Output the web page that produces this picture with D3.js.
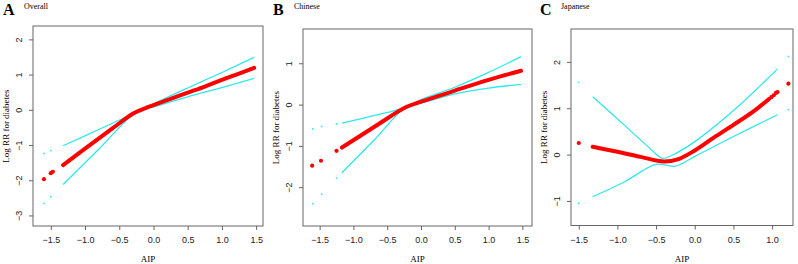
<!DOCTYPE html>
<html>
<head>
<meta charset="utf-8">
<script src="https://cdn.jsdelivr.net/npm/d3@7"></script>
<style>
  body { margin: 0; background: #fff; }
  svg { display: block; }
</style>
</head>
<body>
<svg width="798" height="264"></svg>
<script>
// ---- data ----
var xTicks = [-1.5, -1.0, -0.5, 0.0, 0.5, 1.0, 1.5];
var japaneseXTicks = [-1.5, -1.0, -0.5, 0.0, 0.5, 1.0];

// A  Overall
var overallX      = [-1.32, -1.0, -0.6, -0.29, -0.1, 0, 0.25, 0.49, 0.75, 1.0, 1.25, 1.47];
var overallFit    = [-1.57, -1.10, -0.53, -0.10, 0.06, 0.13, 0.31, 0.48, 0.66, 0.85, 1.03, 1.19];
var overallDotX   = [-1.6, -1.5, -1.47];
var overallDotFit = [-1.97, -1.80, -1.76];
var overallCiX    = [-1.32, -0.8, -0.25, 0, 0.5, 1.0, 1.47];
var overallUpper  = [-1.02, -0.56, -0.07, 0.17, 0.62, 1.06, 1.49];
var overallLower  = [-2.12, -1.12, -0.07, 0.08, 0.37, 0.63, 0.89];
var overallCiDotX = [-1.6, -1.5];
var overallUpDot  = [-1.24, -1.16];
var overallLoDot  = [-2.66, -2.47];
var overallYTicks = [2, 1, 0, -1, -2, -3];

// B  Chinese
var chineseX      = [-1.17, -0.7, -0.22, 0, 0.5, 1.0, 1.48];
var chineseFit    = [-1.04, -0.55, -0.06, 0.07, 0.34, 0.60, 0.82];
var chineseDotX   = [-1.61, -1.48, -1.25];
var chineseDotFit = [-1.48, -1.36, -1.12];
var chineseCiX    = [-1.17, -0.7, -0.22, 0, 0.5, 1.0, 1.48];
var chineseUpper  = [-0.45, -0.27, -0.06, 0.12, 0.42, 0.78, 1.16];
var chineseLower  = [-1.65, -0.87, -0.06, 0.03, 0.26, 0.40, 0.49];
var chineseCiDotX = [-1.6, -1.47, -1.25];
var chineseUpDot  = [-0.59, -0.53, -0.47];
var chineseLoDot  = [-2.40, -2.17, -1.78];
var chineseYTicks = [1, 0, -1, -2];

// C  Japanese
var japaneseX      = [-1.32, -1.0, -0.7, -0.4, -0.2, 0, 0.25, 0.5, 0.75, 0.96];
var japaneseFit    = [0.17, 0.06, -0.05, -0.15, -0.09, 0.09, 0.37, 0.64, 0.92, 1.20];
var japaneseDotX   = [-1.5, 0.99, 1.02, 1.05, 1.07, 1.21];
var japaneseDotFit = [0.25, 1.24, 1.28, 1.33, 1.35, 1.53];
var japaneseUpX    = [-1.32, -0.9, -0.55, -0.42, -0.3, 0, 0.5, 1.07];
var japaneseUpper  = [1.25, 0.62, 0.09, -0.08, -0.02, 0.28, 0.95, 1.85];
var japaneseLoX    = [-1.32, -0.9, -0.5, -0.25, 0, 0.5, 1.07];
var japaneseLower  = [-0.91, -0.58, -0.21, -0.25, -0.04, 0.39, 0.86];
var japaneseCiDotX = [-1.5, 1.21];
var japaneseUpDot  = [1.56, 2.12];
var japaneseLoDot  = [-1.05, 0.97];
var japaneseYTicks = [2, 1, 0, -1];

var svg = d3.select('svg');
var red = "#ff0000", cyan = "#2ee8ee", axisCol = "#666";

function zip(xs, ys) {
    return xs.map(function(x, i) { return [x, ys[i]]; });
}

function panel(p) {
    var x = d3.scaleLinear().domain(p.xDomain).range([p.left, p.right]);
    var y = d3.scaleLinear().domain(p.yDomain).range([p.bottom, p.top]);
    var g = svg.append("g");

    var line = d3.line()
        .x(function(d) { return x(d[0]); })
        .y(function(d) { return y(d[1]); })
        .curve(d3.curveCatmullRom.alpha(0.5));

    // CI lines
    [[p.upX, p.upper], [p.loX, p.lower]].forEach(function(s) {
        g.append("path")
            .datum(zip(s[0], s[1]))
            .attr("d", line)
            .attr("fill", "none")
            .attr("stroke", cyan)
            .attr("stroke-width", 1.3);
    });
    g.selectAll(".cidot")
        .data(zip(p.ciDotX, p.upDot).concat(zip(p.ciDotX, p.loDot)))
        .enter().append("circle")
        .attr("cx", function(d) { return x(d[0]); })
        .attr("cy", function(d) { return y(d[1]); })
        .attr("r", 0.9)
        .attr("fill", cyan);

    // fitted line
    g.append("path")
        .datum(zip(p.fitX, p.fit))
        .attr("d", line)
        .attr("fill", "none")
        .attr("stroke", red)
        .attr("stroke-width", 4)
        .attr("stroke-linecap", "round");
    g.selectAll(".fitdot")
        .data(zip(p.dotX, p.dotFit))
        .enter().append("circle")
        .attr("cx", function(d) { return x(d[0]); })
        .attr("cy", function(d) { return y(d[1]); })
        .attr("r", 2.1)
        .attr("fill", red);

    // box
    g.append("rect")
        .attr("x", p.left).attr("y", p.top)
        .attr("width", p.right - p.left).attr("height", p.bottom - p.top)
        .attr("fill", "none").attr("stroke", axisCol).attr("stroke-width", 1);

    // axes
    var xAxis = d3.axisBottom(x).tickValues(p.xTicks).tickSize(4).tickPadding(7)
        .tickFormat(function(d) { return d3.format(".1f")(d).replace("-", "\u2212"); });
    var gx = g.append("g")
        .attr("transform", "translate(0," + p.bottom + ")")
        .call(xAxis);
    var yAxis = d3.axisLeft(y).tickValues(p.yTicks).tickSize(4)
        .tickFormat(function(d) { return String(d).replace("-", "\u2212"); });
    var gy = g.append("g")
        .attr("transform", "translate(" + p.left + ",0)")
        .call(yAxis);
    [gx, gy].forEach(function(a) {
        a.select(".domain").remove();
        a.selectAll("line").attr("stroke", axisCol);
        a.selectAll("text")
            .attr("fill", "#222")
            .style("font-family", "'Liberation Sans', Arial, sans-serif")
            .style("font-size", "9px");
    });
    gy.selectAll(".tick text")
        .attr("x", null).attr("dy", null)
        .attr("text-anchor", "middle")
        .attr("transform", "translate(-11,0) rotate(-90)");

    // labels
    var serif = "'Liberation Serif', 'Times New Roman', serif";
    g.append("text")
        .attr("x", (p.left + p.right) / 2).attr("y", 262)
        .attr("text-anchor", "middle")
        .style("font-family", serif).style("font-size", "9px")
        .text("AIP");
    g.append("text")
        .attr("transform", "translate(" + (p.left - 24) + "," + ((p.top + p.bottom) / 2) + ") rotate(-90)")
        .attr("text-anchor", "middle")
        .style("font-family", serif).style("font-size", "9px")
        .text("Log RR for diabetes");
    g.append("text")
        .attr("x", p.letterX).attr("y", 15)
        .style("font-family", serif).style("font-size", "16px").style("font-weight", "bold")
        .text(p.letter);
    g.append("text")
        .attr("x", p.letterX + 21).attr("y", 9)
        .style("font-family", serif).style("font-size", "8px")
        .text(p.title);
}

panel({
    letter: "A", title: "Overall", letterX: 3,
    left: 33, right: 263, top: 26, bottom: 226,
    xDomain: [-1.76, 1.60], yDomain: [-3.30, 2.38],
    fitX: overallX, fit: overallFit, dotX: overallDotX, dotFit: overallDotFit,
    upX: overallCiX, upper: overallUpper, loX: overallCiX, lower: overallLower,
    ciDotX: overallCiDotX, upDot: overallUpDot, loDot: overallLoDot,
    xTicks: xTicks, yTicks: overallYTicks
});

panel({
    letter: "B", title: "Chinese", letterX: 273,
    left: 303, right: 532, top: 29, bottom: 226,
    xDomain: [-1.746, 1.642], yDomain: [-2.94, 1.83],
    fitX: chineseX, fit: chineseFit, dotX: chineseDotX, dotFit: chineseDotFit,
    upX: chineseCiX, upper: chineseUpper, loX: chineseCiX, lower: chineseLower,
    ciDotX: chineseCiDotX, upDot: chineseUpDot, loDot: chineseLoDot,
    xTicks: xTicks, yTicks: chineseYTicks
});

panel({
    letter: "C", title: "Japanese", letterX: 540,
    left: 571, right: 793, top: 29, bottom: 225.5,
    xDomain: [-1.60, 1.27], yDomain: [-1.53, 2.71],
    fitX: japaneseX, fit: japaneseFit, dotX: japaneseDotX, dotFit: japaneseDotFit,
    upX: japaneseUpX, upper: japaneseUpper, loX: japaneseLoX, lower: japaneseLower,
    ciDotX: japaneseCiDotX, upDot: japaneseUpDot, loDot: japaneseLoDot,
    xTicks: japaneseXTicks, yTicks: japaneseYTicks
});
</script>
</body>
</html>
